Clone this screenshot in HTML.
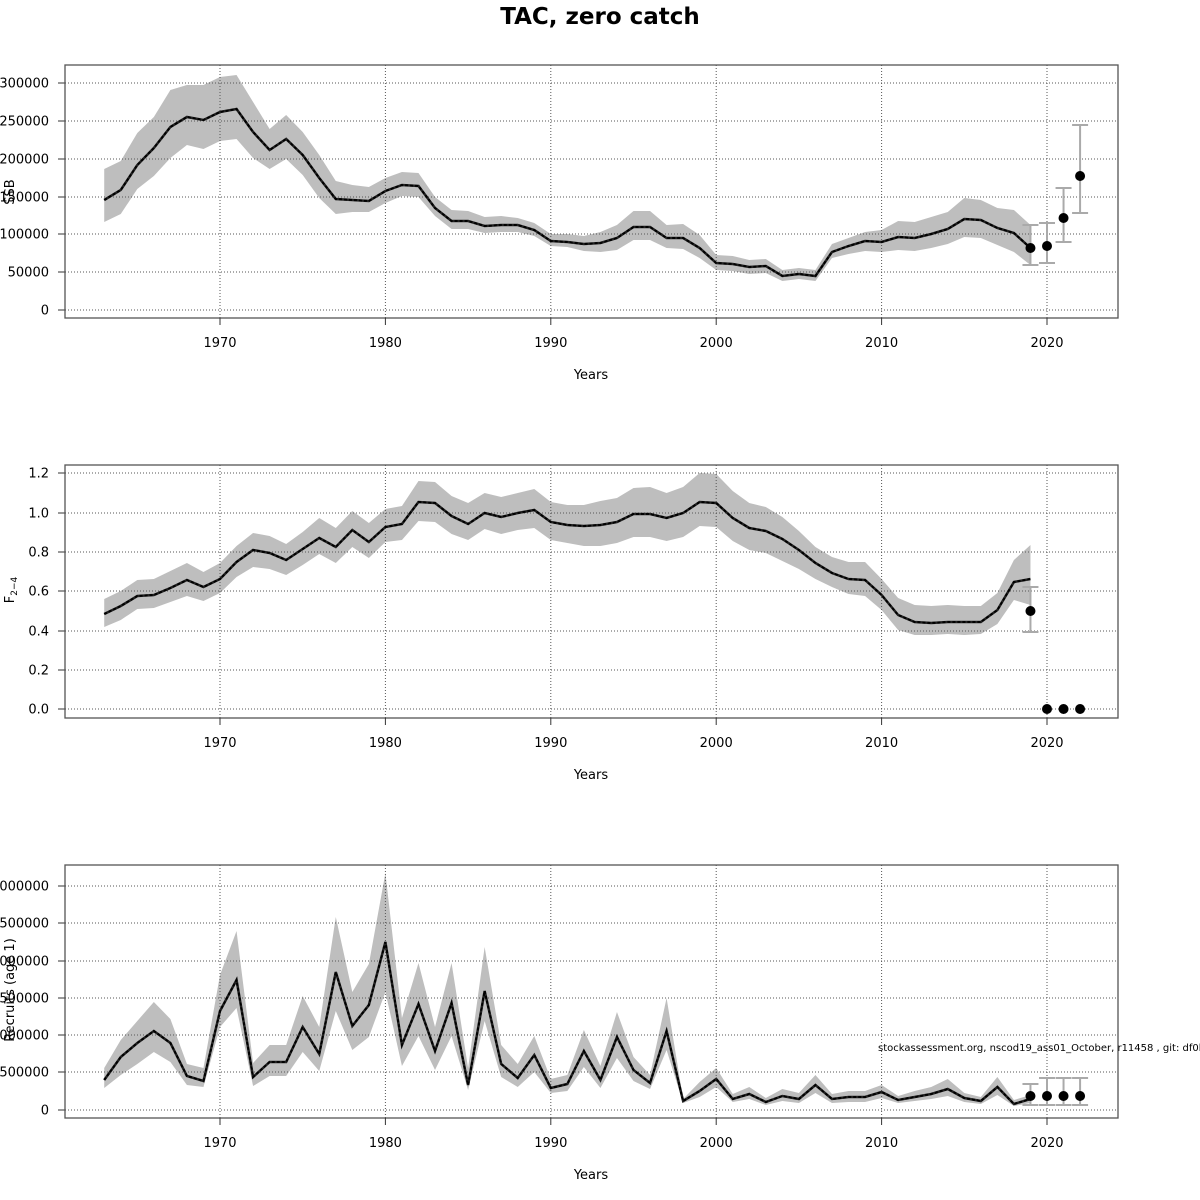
<!DOCTYPE html>
<html><head><meta charset="utf-8"><style>
html,body{margin:0;padding:0;background:#fff;}
svg{display:block;font-family:"DejaVu Sans","Liberation Sans",sans-serif;}
</style></head><body>
<svg id="s" width="1200" height="1200" viewBox="0 0 1200 1200" xmlns="http://www.w3.org/2000/svg">
<text x="600" y="24" text-anchor="middle" font-size="23" font-weight="bold">TAC, zero catch</text>
<text x="878" y="1051" font-size="10">stockassessment.org, nscod19_ass01_October, r11458 , git: df0b7</text>
</svg>
<script>
const S=document.getElementById('s');const NS='http://www.w3.org/2000/svg';
function el(t,a,txt){const e=document.createElementNS(NS,t);for(const k in a)e.setAttribute(k,a[k]);if(txt!==undefined)e.textContent=txt;S.appendChild(e);return e;}
const X=y=>220+(y-1970)*16.54;
const P=[
{top:65,bot:318,yt:[[0,310],[50000,272],[100000,234],[150000,197],[200000,159],[250000,121],[300000,83]],lab:'SSB',ly:192,
m:[200,190,165,148,127,117,120,112,109,132,150,139,155,178,199,200,201,191,185,186,208,221,221,226,225,225,230,241,242,244,243,238,227,227,238,238,248,263,264,267,266,276,274,276,252,246,241,242,237,238,234,229,219,220,228,233,248],
u:[169,161,133,117,90,85,85,77,75,102,129,115,132,155,181,185,187,178,172,173,197,210,211,217,216,218,223,234,234,236,232,225,211,211,225,224,235,255,256,260,259,270,268,270,244,238,232,230,221,222,217,212,198,200,208,210,225],
l:[222,214,189,176,158,145,149,141,139,158,169,159,175,198,214,212,212,203,196,197,216,229,229,233,232,232,236,246,247,251,252,250,240,240,248,249,258,270,271,274,273,281,279,281,258,254,251,252,250,251,248,244,237,238,245,252,265],
pts:[[2019,248,225,265],[2020,246,223,263],[2021,218,188,242],[2022,176,125,213]]},
{top:465,bot:718,yt:[['0.0',709],['0.2',670],['0.4',631],['0.6',591],['0.8',552],['1.0',513],['1.2',473]],lab:'F',ly:590,
m:[614,606,596,595,588,580,587,579,562,550,553,560,549,538,547,530,542,527,524,502,503,516,524,513,517,513,510,522,525,526,525,522,514,514,518,513,502,503,518,528,531,539,550,563,573,579,580,595,615,622,623,622,622,622,610,582,579],
u:[599,591,580,579,571,563,572,563,546,533,536,544,532,518,528,511,523,509,506,481,482,496,503,493,497,493,489,502,505,505,501,498,488,487,493,487,473,474,491,503,507,517,531,547,557,562,562,579,598,605,606,605,606,606,593,560,545],
l:[627,620,609,608,602,596,601,593,577,567,569,575,565,554,563,547,558,542,540,521,522,534,540,529,534,530,528,540,543,546,546,543,537,537,541,537,526,527,541,550,553,561,569,579,587,594,596,610,630,635,635,634,635,634,624,600,605],
pts:[[2019,611,587,632],[2020,709],[2021,709],[2022,709]]},
{top:865,bot:1118,yt:[[0,1110],[500000,1072],[1000000,1035],[1500000,998],[2000000,961],[2500000,923],[3000000,886]],lab:'Recruits (age 1)',ly:990,
m:[1080,1057,1043,1031,1043,1076,1081,1011,980,1077,1062,1062,1027,1054,972,1026,1005,942,1045,1004,1051,1003,1085,991,1064,1078,1055,1088,1084,1051,1080,1037,1070,1083,1031,1101,1091,1079,1099,1094,1102,1096,1099,1085,1099,1097,1097,1092,1100,1097,1094,1089,1098,1101,1087,1104,1099],
u:[1068,1040,1021,1002,1019,1064,1068,975,931,1063,1045,1045,996,1027,917,992,964,873,1018,963,1027,963,1068,947,1045,1064,1036,1079,1075,1030,1066,1012,1057,1075,998,1099,1082,1068,1094,1087,1098,1089,1093,1075,1094,1091,1091,1085,1096,1091,1087,1079,1093,1097,1077,1100,1095],
l:[1088,1075,1064,1052,1062,1085,1087,1027,1008,1086,1076,1076,1052,1071,1011,1050,1037,992,1066,1036,1070,1036,1090,1021,1077,1087,1072,1093,1091,1067,1088,1058,1081,1089,1050,1103,1097,1087,1102,1099,1105,1101,1103,1093,1103,1102,1102,1098,1103,1101,1099,1096,1102,1104,1095,1106,1103],
pts:[[2019,1096,1084,1105],[2020,1096,1078,1105],[2021,1096,1078,1105],[2022,1096,1078,1105]]}
];
P.forEach((p,i)=>{
  // band
  let pts=p.u.map((v,k)=>X(1963+k)+','+v).concat(p.l.map((v,k)=>X(1963+k)+','+v).reverse());
  el('polygon',{points:pts.join(' '),fill:'#bebebe',stroke:'none'});
  // grid
  for(let y=1970;y<=2020;y+=10)el('line',{x1:X(y),x2:X(y),y1:p.top,y2:p.bot,stroke:'#555','stroke-width':1,'stroke-dasharray':'1,2'});
  p.yt.forEach(t=>{el('line',{x1:65,x2:1118,y1:t[1],y2:t[1],stroke:'#555','stroke-width':1,'stroke-dasharray':'1,2'});
    el('line',{x1:58,x2:65,y1:t[1],y2:t[1],stroke:'#333'});
    el('text',{x:49,y:t[1]+4.5,'text-anchor':'end','font-size':13},t[0]);});
  // line
  const lp=p.m.map((v,k)=>X(1963+k)+','+v).join(' ');
  el('polyline',{points:lp,fill:'none',stroke:'#222','stroke-width':2.5});
  el('polyline',{points:lp,fill:'none',stroke:'#000','stroke-width':2,'stroke-dasharray':'3,2'});
  // error bars & points
  p.pts.forEach(q=>{const x=X(q[0]);
    if(q.length>2){el('line',{x1:x,x2:x,y1:q[2],y2:q[3],stroke:'#aaa','stroke-width':2});
      el('line',{x1:x-8,x2:x+8,y1:q[2],y2:q[2],stroke:'#aaa','stroke-width':2});
      el('line',{x1:x-8,x2:x+8,y1:q[3],y2:q[3],stroke:'#aaa','stroke-width':2});}
    el('circle',{cx:x,cy:q[1],r:5,fill:'#000'});});
  // box
  el('rect',{x:65,y:p.top,width:1053,height:p.bot-p.top,fill:'none',stroke:'#555','stroke-width':1.3});
  for(let y=1970;y<=2020;y+=10){el('line',{x1:X(y),x2:X(y),y1:p.bot,y2:p.bot+7,stroke:'#333'});
    el('text',{x:X(y),y:p.bot+29,'text-anchor':'middle','font-size':13},y);}
  el('text',{x:591,y:p.bot+61,'text-anchor':'middle','font-size':13},'Years');
  const t=el('text',{x:14,y:p.ly,'text-anchor':'middle','font-size':13,transform:'rotate(-90 14 '+p.ly+')'});
  if(i==1){t.textContent='F';const ts=document.createElementNS(NS,'tspan');ts.setAttribute('font-size','9');ts.setAttribute('dy','3');ts.textContent='2\u22124';t.appendChild(ts);}
  else t.textContent=p.lab;
});
</script>
</body></html>
